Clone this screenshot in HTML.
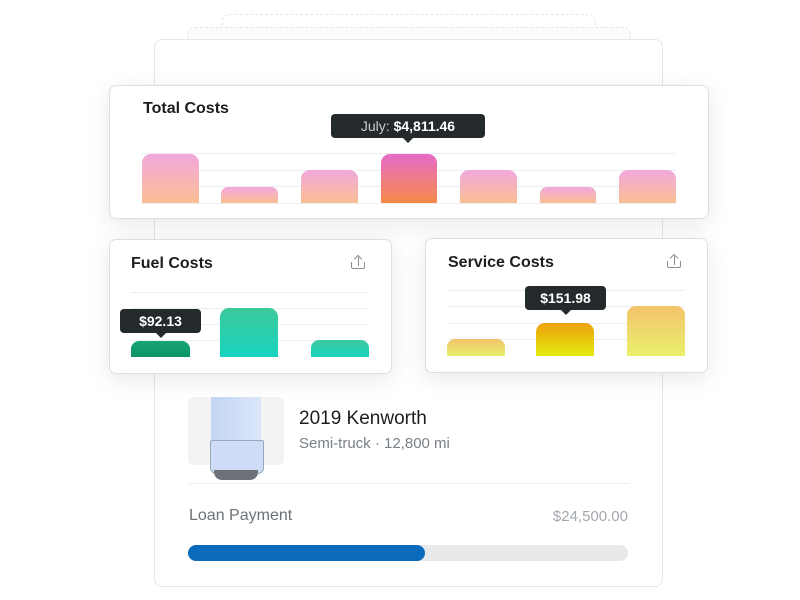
<!DOCTYPE html><html><head><style>
body{margin:0;width:800px;height:600px;background:#fff;position:relative;overflow:hidden;font-family:"Liberation Sans",sans-serif}
.a{position:absolute}
.card{position:absolute;background:#fff;border:1px solid #dcdfe2;border-radius:7px;box-shadow:0 6px 24px rgba(0,0,0,0.09)}
.g{position:absolute;height:1px;background:#eceef0}
.tip{position:absolute;background:#24292c;color:#fff;font-size:14px;border-radius:4px;text-align:center;line-height:24px;height:24px}
.tip:after{content:"";position:absolute;left:50%;bottom:-5px;margin-left:-5px;border:5px solid transparent;border-bottom:0;border-top-color:#24292c}
.pk{background:linear-gradient(#f1a8dd,#fbbf94);border-radius:9px 9px 0 0}
.tt{font-size:16px;font-weight:bold;color:#1b1d1f}
.up{position:absolute;width:14px;height:14px}
.up .tray{position:absolute;left:0;top:6px;width:12px;height:6px;border:1.5px solid #8a8f95;border-top:0;border-radius:0 0 2px 2px}
.up .st{position:absolute;left:6.5px;top:1px;width:1.5px;height:9px;background:#8a8f95}
.up .hd{position:absolute;left:4px;top:0px;width:5px;height:5px;border-left:1.5px solid #8a8f95;border-top:1.5px solid #8a8f95;transform:rotate(45deg)}
</style></head><body>
<div class="a" style="left:222px;top:14px;width:372px;height:30px;border:1px dashed #e3e5e8;border-radius:8px"></div>
<div class="a" style="left:187px;top:27px;width:442px;height:30px;border:1px dashed #e3e5e8;border-radius:8px;background:#fafbfc"></div>
<div class="a" style="left:154px;top:39px;width:507px;height:546px;border:1px solid #e4e6e8;border-radius:8px;background:#fff"></div>

<div class="card" style="left:109px;top:85px;width:598px;height:132px"></div>
<div class="a tt" style="left:143px;top:100px">Total Costs</div>
<div class="g" style="left:142px;top:153px;width:534px"></div>
<div class="g" style="left:142px;top:170px;width:534px"></div>
<div class="g" style="left:142px;top:186px;width:534px"></div>
<div class="g" style="left:142px;top:203px;width:534px"></div>
<div class="a pk" style="left:142px;top:154px;width:57px;height:49px"></div>
<div class="a pk" style="left:221px;top:187px;width:57px;height:16px;border-radius:7px 7px 0 0"></div>
<div class="a pk" style="left:301px;top:170px;width:57px;height:33px"></div>
<div class="a" style="left:381px;top:154px;width:56px;height:49px;border-radius:9px 9px 0 0;background:linear-gradient(#e66bc8,#f68a48)"></div>
<div class="a pk" style="left:460px;top:170px;width:57px;height:33px"></div>
<div class="a pk" style="left:540px;top:187px;width:56px;height:16px;border-radius:7px 7px 0 0"></div>
<div class="a pk" style="left:619px;top:170px;width:57px;height:33px"></div>
<div class="tip" style="left:331px;top:114px;width:154px"><span style="color:#ccc">July:</span> <b>$4,811.46</b></div>

<div class="card" style="left:109px;top:239px;width:281px;height:133px"></div>
<div class="a tt" style="left:131px;top:255px">Fuel Costs</div>
<div class="up" style="left:351px;top:256px"><div class="tray"></div><div class="st"></div><div class="hd"></div></div>
<div class="g" style="left:131px;top:292px;width:238px"></div>
<div class="g" style="left:131px;top:308px;width:238px"></div>
<div class="g" style="left:131px;top:324px;width:238px"></div>
<div class="g" style="left:131px;top:340px;width:238px"></div>
<div class="a" style="left:131px;top:341px;width:59px;height:16px;border-radius:8px 8px 0 0;background:linear-gradient(#17a574,#0b9468)"></div>
<div class="a" style="left:220px;top:308px;width:58px;height:49px;border-radius:9px 9px 0 0;background:linear-gradient(#3cc99a,#19d3c0)"></div>
<div class="a" style="left:311px;top:340px;width:58px;height:17px;border-radius:8px 8px 0 0;background:linear-gradient(#3cc99a,#19d3c0)"></div>
<div class="tip" style="left:120px;top:309px;width:81px;font-weight:bold">$92.13</div>

<div class="card" style="left:425px;top:238px;width:281px;height:133px"></div>
<div class="a tt" style="left:448px;top:254px">Service Costs</div>
<div class="up" style="left:667px;top:255px"><div class="tray"></div><div class="st"></div><div class="hd"></div></div>
<div class="g" style="left:447px;top:290px;width:238px"></div>
<div class="g" style="left:447px;top:306px;width:238px"></div>
<div class="g" style="left:447px;top:323px;width:238px"></div>
<div class="g" style="left:447px;top:339px;width:238px"></div>
<div class="a" style="left:447px;top:339px;width:58px;height:17px;border-radius:8px 8px 0 0;background:linear-gradient(#f4c36c,#e9f06a)"></div>
<div class="a" style="left:536px;top:323px;width:58px;height:33px;border-radius:9px 9px 0 0;background:linear-gradient(#eea10c,#e3ea10)"></div>
<div class="a" style="left:627px;top:306px;width:58px;height:50px;border-radius:9px 9px 0 0;background:linear-gradient(#f4c36c,#e9f06a)"></div>
<div class="tip" style="left:525px;top:286px;width:81px;font-weight:bold">$151.98</div>

<div class="a" style="left:188px;top:397px;width:96px;height:68px;background:#f4f3f1;border-radius:6px"></div>
<div class="a" style="left:211px;top:397px;width:50px;height:43px;background:linear-gradient(90deg,#c3d5f2,#dbe6fa)"></div>
<div class="a" style="left:210px;top:440px;width:52px;height:32px;background:#cfdcf7;border:1px solid #9aa8b8;border-radius:2px 2px 6px 6px"></div>
<div class="a" style="left:214px;top:470px;width:44px;height:10px;background:#6d7278;border-radius:0 0 8px 8px"></div>
<div class="a" style="left:299px;top:408px;font-size:19px;color:#1b1d1f">2019 Kenworth</div>
<div class="a" style="left:299px;top:435px;font-size:15px;color:#7a8088">Semi-truck · 12,800 mi</div>
<div class="g" style="left:188px;top:483px;width:442px"></div>
<div class="a" style="left:189px;top:507px;font-size:16px;color:#6b7278">Loan Payment</div>
<div class="a" style="left:480px;width:148px;text-align:right;top:508px;font-size:15px;color:#a3a8ad">$24,500.00</div>
<div class="a" style="left:188px;top:545px;width:440px;height:16px;border-radius:8px;background:#e8e9eb"></div>
<div class="a" style="left:188px;top:545px;width:237px;height:16px;border-radius:8px;background:#0a6abb"></div>
</body></html>
